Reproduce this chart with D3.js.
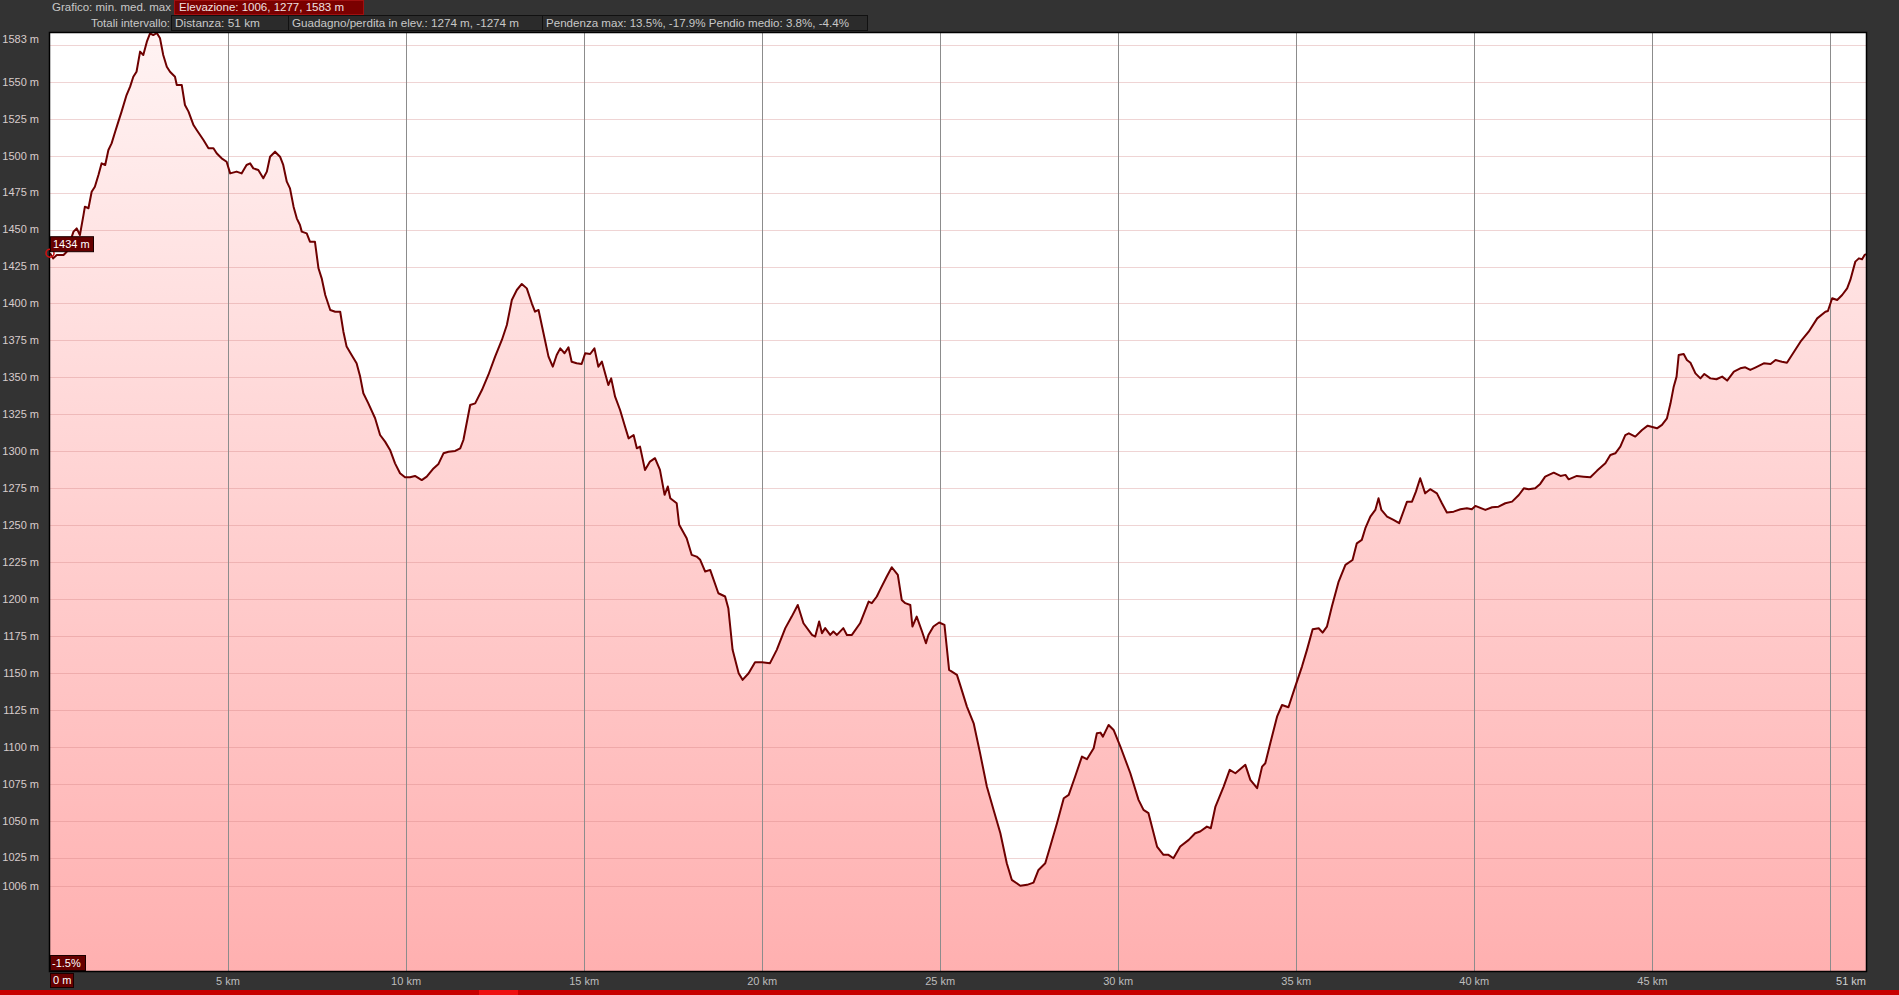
<!DOCTYPE html>
<html><head><meta charset="utf-8">
<script src="https://cdn.jsdelivr.net/npm/d3@7"></script>
<style>
html,body{margin:0;padding:0;background:#333333;overflow:hidden;}
svg{display:block;}
text{font-family:"Liberation Sans",Arial,sans-serif;}
</style></head>
<body>
<script>
// ---- data ----
const distKm = [0,0.09,0.19,0.38,0.47,0.66,0.75,0.84,0.94,0.98,1.08,1.17,1.26,1.36,1.45,1.55,1.64,1.73,1.83,1.92,2.01,2.15,2.25,2.34,2.43,2.53,2.62,2.72,2.81,2.90,3.00,3.09,3.18,3.28,3.37,3.51,3.56,3.70,3.79,3.89,4.03,4.12,4.31,4.45,4.59,4.68,4.82,4.96,5.06,5.24,5.38,5.52,5.62,5.71,5.85,5.99,6.09,6.18,6.32,6.46,6.55,6.65,6.74,6.84,6.93,7.02,7.07,7.21,7.30,7.44,7.54,7.63,7.73,7.87,8.01,8.15,8.24,8.33,8.47,8.61,
8.71,8.80,8.94,9.13,9.27,9.41,9.55,9.69,9.83,9.97,10.11,10.25,10.44,10.58,10.77,10.91,11.05,11.19,11.38,11.52,11.61,11.80,11.94,12.13,12.31,12.50,12.69,12.83,12.97,13.11,13.25,13.39,13.53,13.62,13.72,13.81,13.90,14.00,14.12,14.23,14.33,14.45,14.56,14.65,14.79,14.93,15.03,15.17,15.29,15.40,15.50,15.68,15.76,15.87,16.01,16.15,16.25,16.39,16.48,16.57,16.71,16.85,
16.99,17.13,17.26,17.35,17.42,17.60,17.67,17.88,18.02,18.16,18.26,18.40,18.54,18.77,18.96,19.05,19.17,19.34,19.45,19.62,19.80,19.99,20.22,20.41,20.65,20.83,21.00,21.16,21.40,21.49,21.60,21.68,21.77,21.91,22.00,22.10,22.28,22.38,22.52,22.75,22.99,23.08,23.22,23.31,23.50,23.64,23.81,23.92,24.02,24.16,24.22,24.34,24.49,24.60,24.67,24.81,24.97,25.12,25.25,25.47,
25.56,25.75,25.94,26.12,26.31,26.50,26.69,26.87,27.01,27.25,27.44,27.62,27.76,27.95,28.09,28.28,28.47,28.61,28.79,28.98,29.12,29.31,29.40,29.50,29.57,29.73,29.87,30.06,30.34,30.57,30.71,30.85,31.09,31.27,31.41,31.55,31.74,31.98,32.16,32.30,32.49,32.60,32.73,32.96,33.13,33.29,33.57,33.71,33.90,34.04,34.13,
34.27,34.46,34.60,34.78,34.97,35.16,35.30,35.46,35.63,35.74,35.86,36.00,36.19,36.38,36.58,36.70,36.84,36.94,37.08,37.22,37.31,37.39,37.55,37.73,37.89,38.11,38.25,38.36,38.48,38.62,38.76,38.95,39.09,39.23,39.42,39.61,39.79,39.93,40.03,40.31,40.50,40.68,40.87,41.06,41.25,41.39,41.53,41.71,41.85,41.99,42.23,42.42,42.56,42.65,
42.88,43.07,43.26,43.45,43.68,43.82,43.96,44.10,44.24,44.34,44.52,44.71,44.87,45.13,45.27,45.41,45.51,45.60,45.68,45.74,45.88,45.97,46.07,46.21,46.35,46.46,46.63,46.80,46.96,47.10,47.29,47.47,47.61,47.75,47.89,48.13,48.32,48.46,48.64,48.78,48.92,49.16,49.39,49.63,49.86,49.93,50.05,50.19,50.33,50.47,50.56,50.70,50.80,50.89,50.96,51.00];
const elevM = [1434,1430.5,1432.8,1432.8,1435.0,1448.6,1450.8,1446.3,1459.8,1465.5,1464.4,1475.6,1479.0,1486.9,1494.8,1493.7,1503.8,1508.3,1516.2,1523.0,1529.8,1541.0,1546.7,1553.4,1556.8,1570.4,1568.1,1577.1,1582.8,1581.6,1583.0,1579.4,1568.1,1560.2,1556.8,1553.4,1547.8,1547.8,1534.3,1529.8,1520.7,1517.4,1510.6,1505.0,1505.0,1501.6,1498.2,1495.9,1488.0,1489.2,1488.0,1493.7,1494.8,1491.4,1490.3,1484.7,1489.2,1499.3,1502.7,1499.3,1493.7,1482.4,1477.9,1465.5,1457.6,1453.1,1448.6,1447.4,1441.8,1441.8,1423.8,1417.0,1405.7,1395.6,1394.4,1394.4,1380.9,1370.8,1365.1,1359.5,
1350.5,1339.2,1332.4,1322.3,1311.0,1306.5,1300.9,1291.8,1285.1,1282.4,1282.4,1283.3,1280.5,1282.8,1288.4,1291.4,1298.6,1299.7,1300.2,1302.0,1307.6,1331.3,1332.4,1341.4,1351.6,1364.0,1375.3,1385.4,1402.3,1409.1,1413.2,1410.2,1400.1,1394.4,1395.6,1385.4,1375.3,1364.0,1357.2,1365.1,1369.6,1366.3,1370.3,1360.6,1359.5,1359.0,1366.3,1365.8,1369.6,1357.2,1360.6,1344.8,1349.3,1336.9,1327.9,1316.6,1308.7,1311.0,1302.0,1303.1,1287.3,1293.0,
1295.3,1287.4,1270.5,1276.1,1268.2,1264.8,1250.2,1241.1,1229.9,1228.7,1226.5,1218.6,1219.7,1203.9,1201.7,1193.8,1165.6,1149.8,1145.3,1149.8,1157.2,1157.2,1156.6,1165.6,1180.3,1188.1,1196.0,1183.6,1175.7,1174.6,1184.8,1176.9,1180.3,1175.7,1178.0,1175.7,1180.3,1175.7,1175.7,1183.6,1198.3,1197.2,1201.7,1206.2,1215.2,1221.5,1216.3,1199.4,1197.2,1196.0,1181.4,1188.1,1178.0,1170.1,1175.7,1181.4,1184.1,1182.5,1152.1,1148.7,
1141.9,1127.2,1115.9,1095.7,1073.1,1057.3,1041.5,1021.2,1010.0,1006.0,1006.6,1008.1,1016.7,1021.2,1032.5,1048.3,1065.2,1067.5,1079.9,1093.4,1091.6,1099.0,1109.2,1109.6,1106.9,1114.8,1111.4,1100.2,1082.1,1064.1,1057.3,1055.1,1032.5,1026.9,1026.9,1024.6,1032.5,1037.0,1041.5,1042.7,1046.0,1044.9,1059.6,1073.1,1084.4,1082.1,1087.8,1077.6,1072.0,1086.6,1088.9,
1102.4,1120.4,1128.3,1126.8,1140.7,1154.3,1165.6,1179.5,1180.2,1177.3,1181.3,1194.9,1211.8,1223.1,1226.4,1237.7,1240.0,1247.9,1255.8,1260.3,1268.2,1260.3,1255.8,1253.5,1251.3,1265.9,1265.9,1272.7,1281.7,1271.5,1274.3,1271.5,1264.8,1258.5,1259.1,1260.7,1261.4,1260.7,1263.0,1260.3,1262.1,1262.5,1264.8,1265.9,1270.4,1274.9,1274.3,1274.9,1277.9,1282.8,1285.5,1283.3,1284.0,1281.0,
1283.3,1282.8,1282.4,1286.9,1291.8,1297.5,1298.6,1303.1,1310.9,1312.1,1309.9,1314.4,1317.3,1315.5,1317.8,1322.3,1332.4,1343.7,1350.5,1365.1,1365.8,1361.7,1359.9,1352.7,1349.3,1352.3,1349.3,1348.7,1350.5,1347.8,1353.9,1356.1,1356.8,1355.0,1356.6,1359.5,1359.0,1361.7,1360.6,1359.9,1365.1,1374.1,1380.9,1389.9,1394.4,1394.9,1403.5,1402.3,1405.7,1410.2,1415.9,1428.3,1430.5,1429.9,1432.8,1433.5];

const xDomain = [0, 51];
const yDomain = [948.3, 1583];
const yGridValues = [1006,1025,1050,1075,1100,1125,1150,1175,1200,1225,1250,1275,1300,1325,1350,1375,1400,1425,1450,1475,1500,1525,1550,1575];
const yLabelValues = [1583,1550,1525,1500,1475,1450,1425,1400,1375,1350,1325,1300,1275,1250,1225,1200,1175,1150,1125,1100,1075,1050,1025,1006];
const xGridValues = [5,10,15,20,25,30,35,40,45,50];
const xLabelValues = [5,10,15,20,25,30,35,40,45];
const startElev = 1434;
const header1Label = "Grafico: min. med. max";
const header1Box = "Elevazione: 1006, 1277, 1583 m";
const header2Label = "Totali intervallo:";
const header2Boxes = ["Distanza: 51 km", "Guadagno/perdita in elev.: 1274 m, -1274 m", "Pendenza max: 13.5%, -17.9% Pendio medio: 3.8%, -4.4%"];

// ---- layout ----
const W = 1899, H = 995;
const L = 50, R = 1866, T = 33, B = 971;

const svg = d3.select("body").append("svg").attr("width", W).attr("height", H);
svg.append("rect").attr("width", W).attr("height", H).attr("fill", "#333333");

const x = d3.scaleLinear().domain(xDomain).range([L, R]);
const y = d3.scaleLinear().domain(yDomain).range([B, T]);

const defs = svg.append("defs");
const grad = defs.append("linearGradient").attr("id", "fillGrad")
  .attr("gradientUnits", "userSpaceOnUse").attr("x1", 0).attr("x2", 0).attr("y1", T).attr("y2", B);
grad.append("stop").attr("offset", "0%").attr("stop-color", "#fff3f3");
grad.append("stop").attr("offset", "100%").attr("stop-color", "#ffb0b0");

svg.append("rect").attr("x", L).attr("y", T).attr("width", R - L).attr("height", B - T).attr("fill", "#ffffff");

const pts = distKm.map((d, i) => [d, elevM[i]]);
const area = d3.area().x(d => x(d[0])).y0(B).y1(d => y(d[1]));
svg.append("path").datum(pts).attr("d", area).attr("fill", "url(#fillGrad)");

// horizontal gridlines
svg.append("g").selectAll("line").data(yGridValues).join("line")
  .attr("x1", L).attr("x2", R)
  .attr("y1", d => Math.round(y(d)) + 0.5).attr("y2", d => Math.round(y(d)) + 0.5)
  .attr("stroke", "rgba(205,120,120,0.32)").attr("stroke-width", 1);

// vertical gridlines
svg.append("g").selectAll("line").data(xGridValues).join("line")
  .attr("x1", d => Math.round(x(d)) + 0.5).attr("x2", d => Math.round(x(d)) + 0.5)
  .attr("y1", T).attr("y2", B)
  .attr("stroke", "#8c8c8c").attr("stroke-width", 1);

// profile line
const line = d3.line().x(d => x(d[0])).y(d => y(d[1]));
svg.append("path").datum(pts).attr("d", line)
  .attr("fill", "none").attr("stroke", "#6e0000").attr("stroke-width", 2).attr("stroke-linejoin", "round");

// border
svg.append("rect").attr("x", L - 0.5).attr("y", T - 0.5).attr("width", R - L + 1).attr("height", B - T + 1)
  .attr("fill", "none").attr("stroke", "#000").attr("stroke-width", 1.5);

// y labels
svg.append("g").selectAll("text").data(yLabelValues).join("text")
  .attr("x", 39).attr("y", d => d === yDomain[1] ? y(d) + 6 : y(d))
  .attr("dy", "0.35em").attr("text-anchor", "end")
  .attr("font-size", 11).attr("fill", "#d8cccc")
  .text(d => d + " m");

// x labels
svg.append("g").selectAll("text").data(xLabelValues).join("text")
  .attr("x", d => x(d)).attr("y", 981).attr("dy", "0.35em").attr("text-anchor", "middle")
  .attr("font-size", 11).attr("fill", "#bdbdbd").text(d => d + " km");
svg.append("text").attr("x", R).attr("y", 981).attr("dy", "0.35em").attr("text-anchor", "end")
  .attr("font-size", 11).attr("fill", "#d0d0d0").text(xDomain[1] + " km");

// start marker & labels
svg.append("circle").attr("cx", x(0)).attr("cy", y(startElev)).attr("r", 4)
  .attr("fill", "none").attr("stroke", "#d01010").attr("stroke-width", 1.5);
function tag(x0, y0, w, h, txt, tx) {
  svg.append("rect").attr("x", x0 + 0.5).attr("y", y0 + 0.5).attr("width", w).attr("height", h)
    .attr("fill", "#660000").attr("stroke", "#1a0000").attr("stroke-width", 1);
  svg.append("text").attr("x", x0 + (tx || 3)).attr("y", y0 + h / 2 + 0.5).attr("dy", "0.35em")
    .attr("font-size", 11).attr("fill", "#ffffff").text(txt);
}
tag(L, y(startElev) - 17, 43, 15, startElev + " m");
tag(L, 955, 35, 15, "-1.5%", 2);
tag(L, 973, 23, 14, "0 m", 3);

// bottom bar
svg.append("rect").attr("x", 0).attr("y", 990).attr("width", W).attr("height", 5).attr("fill", "#c80000");
svg.append("rect").attr("x", 479).attr("y", 990).attr("width", 39).attr("height", 5).attr("fill", "#f01010");

// header
function fitText(xp, yp, txt, w, anchor) {
  svg.append("text").attr("x", xp).attr("y", yp).attr("dy", "0.35em").attr("text-anchor", anchor || "start")
    .attr("font-size", 11).attr("fill", "#c8c8c8")
    .attr("textLength", w).attr("lengthAdjust", "spacingAndGlyphs").text(txt);
}
fitText(52, 7.5, header1Label, 119);
svg.append("rect").attr("x", 174.5).attr("y", 0.5).attr("width", 189).attr("height", 14)
  .attr("fill", "#7a0000").attr("stroke", "#a01010");
svg.append("text").attr("x", 179).attr("y", 7.5).attr("dy", "0.35em")
  .attr("font-size", 11).attr("fill", "#f0e0e0")
  .attr("textLength", 165).attr("lengthAdjust", "spacingAndGlyphs").text(header1Box);

fitText(91, 23, header2Label, 79);
const boxX = [171, 288, 542, 867];
const boxTextW = [85, 227, 303];
header2Boxes.forEach((t, i) => {
  svg.append("rect").attr("x", boxX[i] + 0.5).attr("y", 15.5).attr("width", boxX[i + 1] - boxX[i]).attr("height", 15)
    .attr("fill", "#2b2b2b").attr("stroke", "#111");
  fitText(boxX[i] + 4, 23, t, boxTextW[i]);
});
</script>
</body></html>
